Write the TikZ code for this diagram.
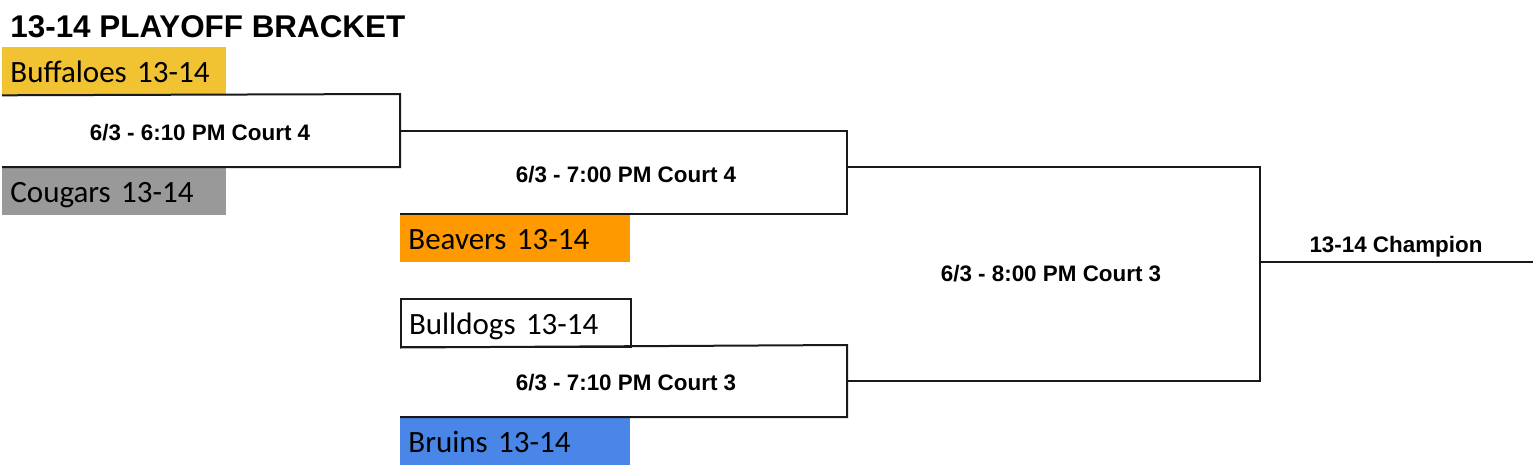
\documentclass[tikz,border=0pt]{standalone}
\usepackage{fontspec}
\setmainfont{Liberation Sans}
\newfontfamily\teamfont{Carlito}
\definecolor{buffyellow}{HTML}{F1C232}
\definecolor{cougray}{HTML}{999999}
\definecolor{beavorange}{HTML}{FF9900}
\definecolor{bruinblue}{HTML}{4A86E8}
\tikzset{
  team/.style={anchor=north west, inner xsep=4pt, inner ysep=0pt,
    text width=#1, minimum height=23.75pt, align=left,
    text height=14pt, text depth=2.5pt,
    font=\teamfont\fontsize{15.5}{18}\selectfont},
  team/.default=104pt,
  game/.style={anchor=base, inner sep=0pt, font=\bfseries\fontsize{11.2}{14}\selectfont},
  bracket/.style={line width=1pt, draw=black!90}
}
\begin{document}
\begin{tikzpicture}[x=0.5pt,y=-0.5pt]
\useasboundingbox (0,0) rectangle (1536,466);
\node[anchor=base west, inner sep=0pt, font=\bfseries\fontsize{15.7}{18}\selectfont] (title) at (10,37) {13-14 PLAYOFF BRACKET};
% teams
\node[team, fill=buffyellow] (buf) at (2,47) {Buffaloes 13-14};
\node[team, fill=cougray] (cou) at (2,167) {Cougars 13-14};
\node[team=107pt, fill=beavorange] (bea) at (400,214) {Beavers 13-14};
\node[team=107pt, draw=black!90, line width=1pt] (bul) at (400,298) {Bulldogs 13-14};
\node[team=107pt, fill=bruinblue] (bru) at (400,417) {Bruins 13-14};
% bracket corners
\coordinate (g1t) at (400,94);  \coordinate (g1b) at (400,167); \coordinate (g1o) at (400,131);
\coordinate (g2t) at (847,131); \coordinate (g2b) at (847,214); \coordinate (g2o) at (847,167);
\coordinate (g3t) at (847,345); \coordinate (g3b) at (847,417); \coordinate (g3o) at (847,381);
\coordinate (g4t) at (1260,167); \coordinate (g4b) at (1260,381); \coordinate (g4o) at (1260,262);
\coordinate (champend) at (1533,262);
\draw[bracket] (buf.south west) -- (g1t) -- (g1b) -- (cou.north west);
\draw[bracket] (g1o) -- (g2t) -- (g2b) -- (bea.north west);
\draw[bracket] (bul.south west) -- (g3t) -- (g3b) -- (bru.north west);
\draw[bracket] (g2o) -- (g4t) -- (g4b) -- (g3o);
\draw[bracket] (g4o) -- (champend);
% game labels
\node[game] (game1) at (200,140) {6/3 - 6:10 PM Court 4};
\node[game] (game2) at (626,182) {6/3 - 7:00 PM Court 4};
\node[game] (game3) at (626,390) {6/3 - 7:10 PM Court 3};
\node[game] (game4) at (1051,281) {6/3 - 8:00 PM Court 3};
\node[game] (champ) at (1396,252) {13-14 Champion};
\end{tikzpicture}
\end{document}
